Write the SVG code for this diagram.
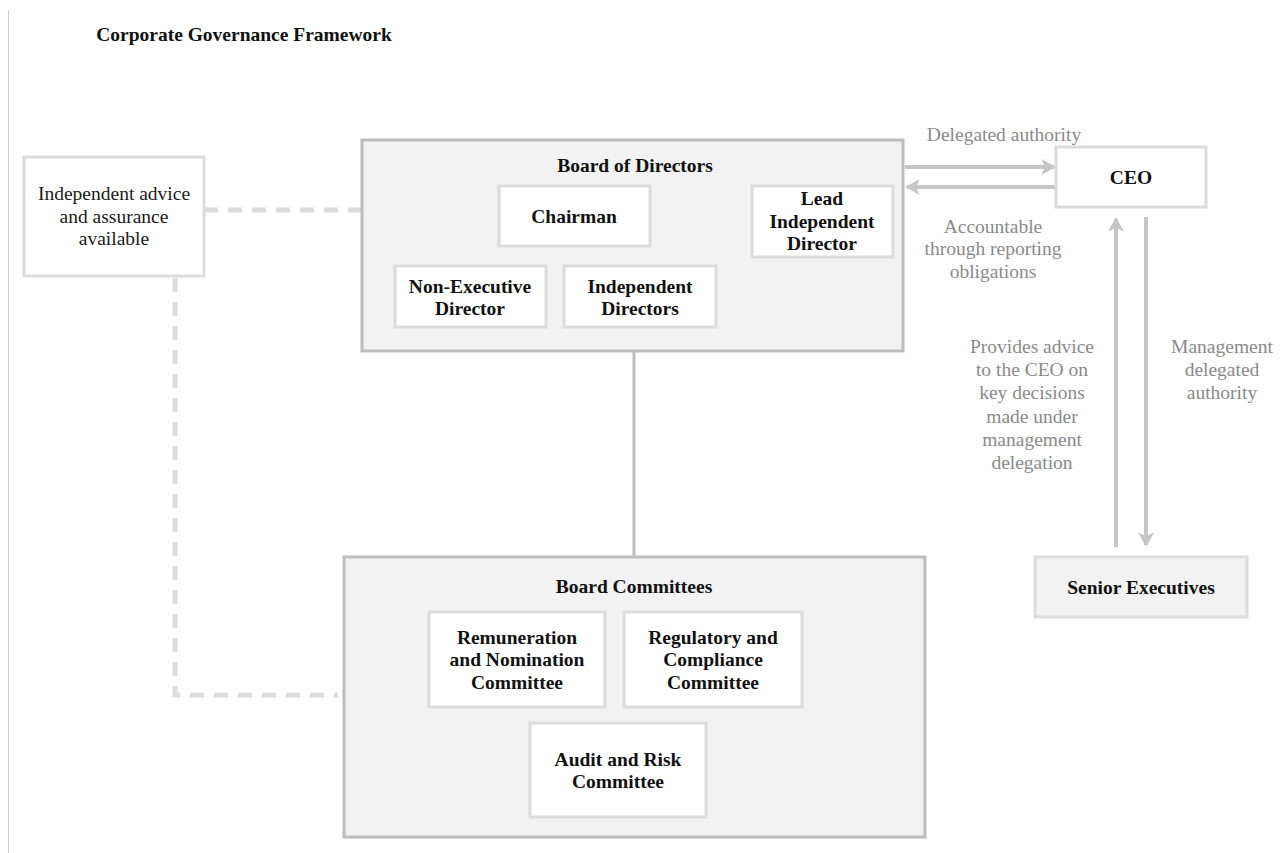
<svg xmlns="http://www.w3.org/2000/svg" width="1284" height="853" viewBox="0 0 1284 853">
<defs>
<style>
text{font-family:"Liberation Serif","Times New Roman",serif;font-size:19.5px;text-anchor:middle;fill:#1a1a1a}
.b{font-weight:bold;fill:#111}
.lbl{fill:#8a8a8a}
.outer{fill:#f2f2f2;stroke:#bdbdbd;stroke-width:3}
.inner{fill:#ffffff;stroke:#dcdcdc;stroke-width:3}
.dash{fill:none;stroke:#dcdcdc;stroke-width:5;stroke-dasharray:14 10}
.solid{fill:none;stroke:#bdbdbd;stroke-width:3}
.arr{fill:none;stroke:#c6c6c6;stroke-width:4}
</style>
<marker id="ah" viewBox="0 0 10 10" refX="8" refY="5" markerWidth="4.5" markerHeight="4.5" orient="auto" markerUnits="strokeWidth">
<path d="M1,0.5 L9,5 L1,9.5 L3,5 Z" fill="#c6c6c6"/>
</marker>
</defs>
<rect width="1284" height="853" fill="#ffffff"/>
<line x1="8.5" y1="10" x2="8.5" y2="853" stroke="#cccccc" stroke-width="1"/>
<text class="b" x="244" y="41">Corporate Governance Framework</text>

<g id="connectors">
<polyline class="dash" points="204,210 362,210"/>
<polyline class="dash" points="175,278 175,695 338,695"/>
<polyline class="dash" points="650,217 752,217"/>
<line class="solid" x1="634" y1="351" x2="634" y2="557"/>
<line class="arr" x1="905" y1="167" x2="1054" y2="167" marker-end="url(#ah)"/>
<line class="arr" x1="1056" y1="187" x2="907" y2="187" marker-end="url(#ah)"/>
<line class="arr" x1="1116" y1="547" x2="1116" y2="219" marker-end="url(#ah)"/>
<line class="arr" x1="1146" y1="217" x2="1146" y2="545" marker-end="url(#ah)"/>
<text class="lbl" x="1004" y="141">Delegated authority</text>
<text class="lbl" x="993" y="233">Accountable</text>
<text class="lbl" x="993" y="255">through reporting</text>
<text class="lbl" x="993" y="278">obligations</text>
<text class="lbl" x="1032" y="353">Provides advice</text>
<text class="lbl" x="1032" y="376">to the CEO on</text>
<text class="lbl" x="1032" y="399">key decisions</text>
<text class="lbl" x="1032" y="423">made under</text>
<text class="lbl" x="1032" y="446">management</text>
<text class="lbl" x="1032" y="469">delegation</text>
<text class="lbl" x="1222" y="353">Management</text>
<text class="lbl" x="1222" y="376">delegated</text>
<text class="lbl" x="1222" y="399">authority</text>
</g>

<g id="independent-advice">
<rect class="inner" x="24" y="157" width="180" height="119"/>
<text x="114" y="200">Independent advice</text>
<text x="114" y="223">and assurance</text>
<text x="114" y="245">available</text>
</g>

<g id="board-of-directors">
<rect class="outer" x="362" y="140" width="541" height="211"/>
<text class="b" x="635" y="172">Board of Directors</text>
</g>
<g id="chairman">
<rect class="inner" x="499" y="186" width="151" height="60"/>
<text class="b" x="574" y="223">Chairman</text>
</g>
<g id="lead-independent-director">
<rect class="inner" x="752" y="186" width="141" height="71"/>
<text class="b" x="822" y="205">Lead</text>
<text class="b" x="822" y="228">Independent</text>
<text class="b" x="822" y="250">Director</text>
</g>
<g id="non-executive-director">
<rect class="inner" x="395" y="266" width="151" height="61"/>
<text class="b" x="470" y="293">Non-Executive</text>
<text class="b" x="470" y="315">Director</text>
</g>
<g id="independent-directors">
<rect class="inner" x="564" y="266" width="152" height="61"/>
<text class="b" x="640" y="293">Independent</text>
<text class="b" x="640" y="315">Directors</text>
</g>

<g id="ceo">
<rect class="inner" x="1056" y="147" width="150" height="60"/>
<text class="b" x="1131" y="184">CEO</text>
</g>
<g id="senior-executives">
<rect class="outer" x="1035" y="557" width="212" height="60" style="stroke:#dcdcdc"/>
<text class="b" x="1141" y="594">Senior Executives</text>
</g>

<g id="board-committees">
<rect class="outer" x="344" y="557" width="581" height="280"/>
<text class="b" x="634" y="593">Board Committees</text>
</g>
<g id="remuneration-and-nomination-committee">
<rect class="inner" x="429" y="612" width="176" height="95"/>
<text class="b" x="517" y="644">Remuneration</text>
<text class="b" x="517" y="666">and Nomination</text>
<text class="b" x="517" y="689">Committee</text>
</g>
<g id="regulatory-and-compliance-committee">
<rect class="inner" x="624" y="612" width="178" height="95"/>
<text class="b" x="713" y="644">Regulatory and</text>
<text class="b" x="713" y="666">Compliance</text>
<text class="b" x="713" y="689">Committee</text>
</g>
<g id="audit-and-risk-committee">
<rect class="inner" x="530" y="723" width="176" height="94"/>
<text class="b" x="618" y="766">Audit and Risk</text>
<text class="b" x="618" y="788">Committee</text>
</g>
</svg>
